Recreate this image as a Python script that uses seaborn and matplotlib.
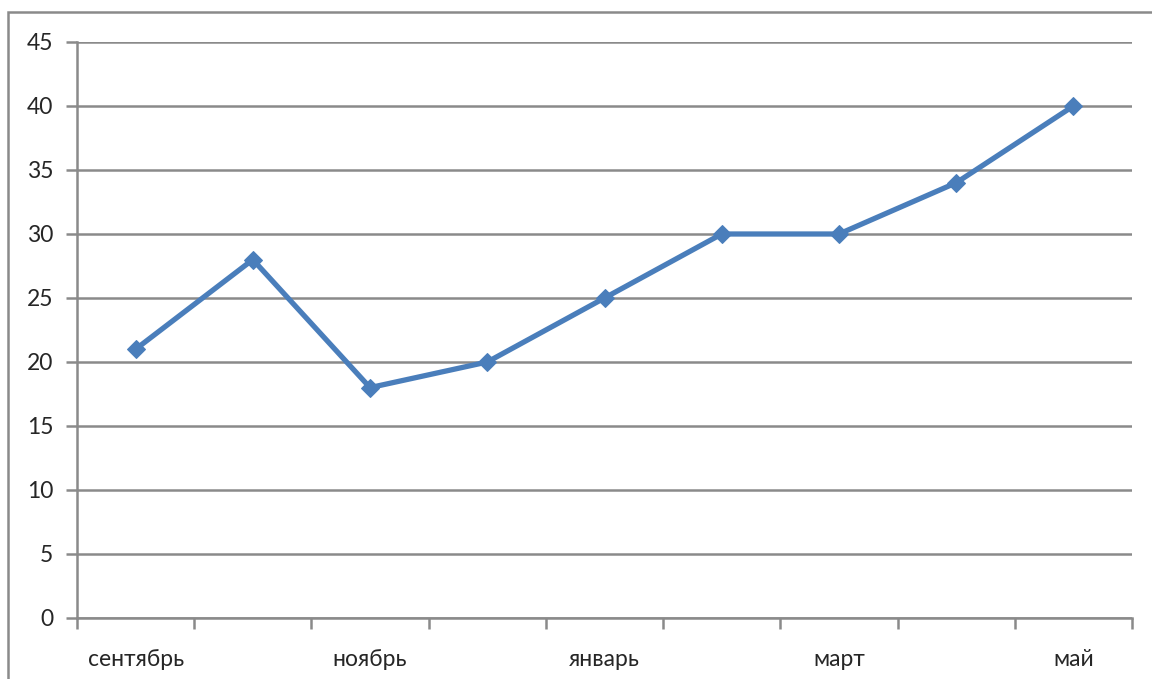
import matplotlib
matplotlib.use("Agg")
import matplotlib.pyplot as plt
import matplotlib.patches as mpatches
import seaborn as sns
import pandas as pd
import numpy as np

months = ["сентябрь", "октябрь", "ноябрь", "декабрь", "январь",
          "февраль", "март", "апрель", "май"]
values = [21, 28, 18, 20, 25, 30, 30, 34, 40]
shown_labels = ["сентябрь", "", "ноябрь", "", "январь", "", "март", "", "май"]
y_ticks = [0, 5, 10, 15, 20, 25, 30, 35, 40, 45]

df = pd.DataFrame({"pos": np.arange(len(months)), "month": months, "value": values})

sns.set_style("white")
plt.rcParams["font.family"] = ["Lato", "DejaVu Sans"]

fig = plt.figure(figsize=(11.52, 6.79), dpi=100)
ax = fig.add_axes([77 / 1152, 61 / 679, 1055 / 1152, 576 / 679])

grid_c = "#8a8a8a"
for y in y_ticks:
    ax.axhline(y, color=grid_c, lw=1.8, zorder=1)

sns.lineplot(data=df, x="pos", y="value", ax=ax, color="#4a7ebb",
             lw=3.8, marker="D", markersize=9, markeredgecolor="#4a7ebb",
             zorder=3, clip_on=False)

ax.set_xlim(-0.5, len(months) - 0.5)
ax.set_ylim(0, 45)
ax.set_yticks(y_ticks)
ax.set_yticklabels([str(v) for v in y_ticks], fontsize=16.5)

# boundary ticks (major, no labels) and centred category labels (minor)
ax.set_xticks(np.arange(-0.5, len(months), 1.0))
ax.set_xticklabels([])
ax.set_xticks(df["pos"], minor=True)
ax.set_xticklabels(shown_labels, minor=True, fontsize=16.5)
ax.tick_params(axis="x", which="major", bottom=True, length=8, width=1.8,
               color=grid_c, direction="out")
ax.tick_params(axis="x", which="minor", bottom=True, length=0, pad=22)
ax.tick_params(axis="y", left=True, length=8, width=1.8, color=grid_c,
               direction="out", pad=9)

for side in ["top", "right"]:
    ax.spines[side].set_visible(False)
for side in ["left", "bottom"]:
    ax.spines[side].set_color(grid_c)
    ax.spines[side].set_linewidth(1.8)

ax.set_xlabel("")
ax.set_ylabel("")

# outer chart frame (cropped at right and bottom)
frame = mpatches.Rectangle((8 / 1152, -0.2), 1.5, 1.2 - 12 / 679,
                           transform=fig.transFigure, fill=False,
                           edgecolor=grid_c, lw=1.8)
fig.patches.append(frame)

fig.savefig("out.png", dpi=100)
